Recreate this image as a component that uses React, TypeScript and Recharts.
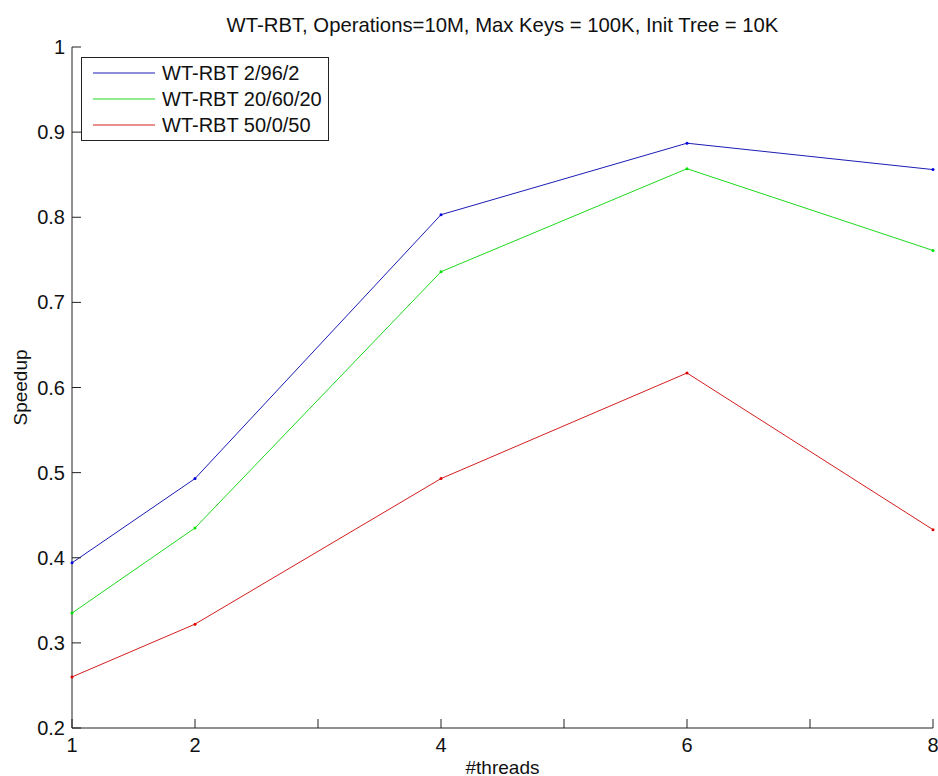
import { LineChart, Line, XAxis, YAxis, Legend } from 'recharts';

// thread counts and measured speedup for each operation mix
const threads = [1, 2, 4, 6, 8];
const mix2_96_2 = [0.394, 0.493, 0.803, 0.887, 0.856];
const mix20_60_20 = [0.335, 0.435, 0.736, 0.857, 0.761];
const mix50_0_50 = [0.26, 0.322, 0.493, 0.617, 0.433];

const xTicks = [1, 2, 3, 4, 5, 6, 7, 8];
const xLabelled = [1, 2, 4, 6, 8];
const yTicks = [0.2, 0.3, 0.4, 0.5, 0.6, 0.7, 0.8, 0.9, 1];

const data = threads.map((t, i) => ({
  threads: t,
  a: mix2_96_2[i],
  b: mix20_60_20[i],
  c: mix50_0_50[i],
}));

const AXIS = '#222';
const FONT = '"Liberation Sans", Arial, sans-serif';
const TICK_LEN = 9;

function XTick({ x, y, payload }: any) {
  const v = payload.value as number;
  return (
    <g>
      <line x1={x} x2={x} y1={y} y2={y - TICK_LEN} stroke={AXIS} />
      {xLabelled.includes(v) && (
        <text x={x} y={y + 17} textAnchor="middle" dominantBaseline="central" fontSize={20} fill="#111">
          {v}
        </text>
      )}
    </g>
  );
}

function YTick({ x, y, payload }: any) {
  const v = payload.value as number;
  return (
    <g>
      <line x1={x} x2={x + TICK_LEN} y1={y} y2={y} stroke={AXIS} />
      <text x={x - 7} y={y} textAnchor="end" dominantBaseline="central" fontSize={20} fill="#111">
        {v === 1 ? '1' : v.toFixed(1)}
      </text>
    </g>
  );
}

function XTitle({ viewBox }: any) {
  return (
    <text x={viewBox.x + viewBox.width / 2} y={viewBox.y + 39} textAnchor="middle" dominantBaseline="central" fontSize={19} fill="#111">
      #threads
    </text>
  );
}

function YTitle({ viewBox }: any) {
  const cx = viewBox.x + 8;
  const cy = viewBox.y + viewBox.height / 2;
  return (
    <text x={cx} y={cy} transform={`rotate(-90 ${cx} ${cy})`} textAnchor="middle" dominantBaseline="central" fontSize={19} fill="#111">
      Speedup
    </text>
  );
}

function LegendBox({ payload }: any) {
  return (
    <div style={{ width: 248, height: 84, boxSizing: 'border-box', border: '1px solid #222', background: '#fff' }}>
      <svg width={246} height={82}>
        {(payload ?? []).map((p: any, i: number) => {
          const cy = 15 + i * 26;
          return (
            <g key={p.value}>
              <line x1={11} x2={73} y1={cy} y2={cy} stroke={p.color} />
              <text x={80} y={cy} dominantBaseline="central" fontSize={20} fill="#111">
                {p.value}
              </text>
            </g>
          );
        })}
      </svg>
    </div>
  );
}

export default function App() {
  return (
    <div style={{ position: 'absolute', left: 0, top: 0, width: 938, height: 776, fontFamily: FONT, background: '#fff' }}>
      <div style={{ position: 'absolute', left: 72, top: 14, width: 861, textAlign: 'center', fontSize: 20.3, lineHeight: '22px', color: '#111' }}>
        WT-RBT, Operations=10M, Max Keys = 100K, Init Tree = 10K
      </div>
      <LineChart width={938} height={776} data={data} margin={{ top: 47, right: 5, bottom: 0, left: 12 }}>
        <XAxis
          dataKey="threads"
          type="number"
          domain={[1, 8]}
          ticks={xTicks}
          interval={0}
          height={48}
          tickSize={0}
          tickMargin={0}
          tickLine={false}
          axisLine={{ stroke: AXIS }}
          tick={<XTick />}
          label={<XTitle />}
        />
        <YAxis
          type="number"
          domain={[0.2, 1]}
          ticks={yTicks}
          interval={0}
          width={60}
          tickSize={0}
          tickMargin={0}
          tickLine={false}
          axisLine={{ stroke: AXIS }}
          tick={<YTick />}
          label={<YTitle />}
        />
        <Legend
          layout="horizontal"
          verticalAlign="middle"
          align="center"
          content={<LegendBox />}
          wrapperStyle={{ left: 81, top: 57, width: 248, height: 84 }}
        />
        <Line dataKey="a" name="WT-RBT 2/96/2" stroke="#1c1cb4" strokeWidth={1} isAnimationActive={false}
          dot={{ r: 1.5, fill: '#0000e0', stroke: 'none' }} activeDot={false} />
        <Line dataKey="b" name="WT-RBT 20/60/20" stroke="#1fd81f" strokeWidth={1} isAnimationActive={false}
          dot={{ r: 1.5, fill: '#00e000', stroke: 'none' }} activeDot={false} />
        <Line dataKey="c" name="WT-RBT 50/0/50" stroke="#d21e1e" strokeWidth={1} isAnimationActive={false}
          dot={{ r: 1.5, fill: '#e00000', stroke: 'none' }} activeDot={false} />
      </LineChart>
    </div>
  );
}
